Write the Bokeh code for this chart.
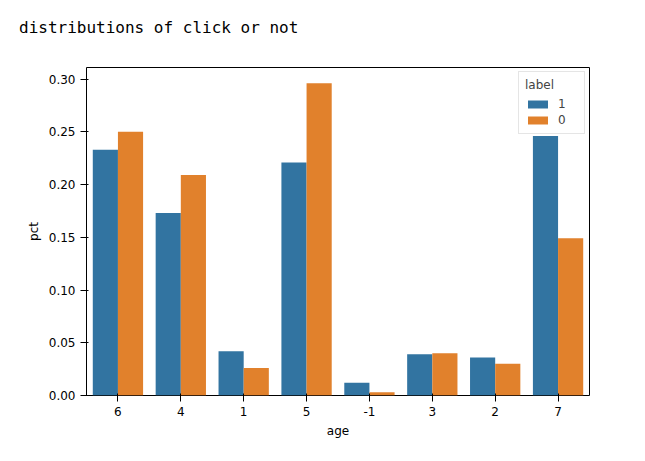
from bokeh.plotting import figure
from bokeh.models import Div, ColumnDataSource, Range1d, FactorRange, Legend, LegendItem, CustomJSTickFormatter
from bokeh.layouts import column
from bokeh.transform import dodge
from bokeh.embed import file_html
from bokeh.resources import INLINE

ages = ["6", "4", "1", "5", "-1", "3", "2", "7"]
pct_1 = [0.233, 0.173, 0.042, 0.221, 0.012, 0.039, 0.036, 0.246]
pct_0 = [0.250, 0.209, 0.026, 0.296, 0.003, 0.040, 0.030, 0.149]
labels = ["1", "0"]

src = ColumnDataSource(dict(age=ages, p1=pct_1, p0=pct_0))

div = Div(text="distributions of click or not", width=620, height=45,
          styles={"font-family": "DejaVu Sans Mono", "font-size": "16px",
                  "padding-left": "14px", "padding-top": "12px", "color": "#000"})

p = figure(x_range=FactorRange(*ages, range_padding=0), y_range=Range1d(0, 0.311),
           frame_width=503, frame_height=328, min_border_left=86, min_border_top=12,
           min_border_bottom=50, min_border_right=20,
           output_backend="svg", toolbar_location=None)
r1 = p.vbar(x=dodge("age", -0.2, range=p.x_range), top="p1", width=0.4, source=src,
            color="#3274a1", line_color=None)
r0 = p.vbar(x=dodge("age", 0.2, range=p.x_range), top="p0", width=0.4, source=src,
            color="#e1812c", line_color=None)
p.xgrid.visible = False
p.ygrid.visible = False
p.outline_line_color = "black"
p.xaxis.axis_label = "age"
p.yaxis.axis_label = "pct"
for ax in (p.xaxis[0], p.yaxis[0]):
    ax.axis_label_text_font_style = "normal"
    ax.axis_label_text_font = "DejaVu Sans"
    ax.axis_label_text_font_size = "12px"
    ax.axis_label_text_color = "black"
    ax.major_label_text_font = "DejaVu Sans"
    ax.major_label_text_font_size = "12px"
    ax.major_label_text_color = "black"
    ax.minor_tick_line_color = None
    ax.axis_line_color = None
p.yaxis.ticker = [0, 0.05, 0.10, 0.15, 0.20, 0.25, 0.30]
p.yaxis.formatter = CustomJSTickFormatter(code="return tick.toFixed(2);")
leg = Legend(items=[LegendItem(label=labels[0], renderers=[r1]),
                    LegendItem(label=labels[1], renderers=[r0])],
             title="label", location="top_right", label_text_font_size="12px",
             label_text_font="DejaVu Sans", title_text_font="DejaVu Sans",
             title_text_font_size="12px", title_text_font_style="normal",
             glyph_width=25, glyph_height=10, spacing=2, padding=6, margin=4,
             label_standoff=8, border_line_color="#cccccc", background_fill_alpha=0.8)
p.add_layout(leg)

open("out.html", "w").write(file_html(column(div, p), INLINE))
